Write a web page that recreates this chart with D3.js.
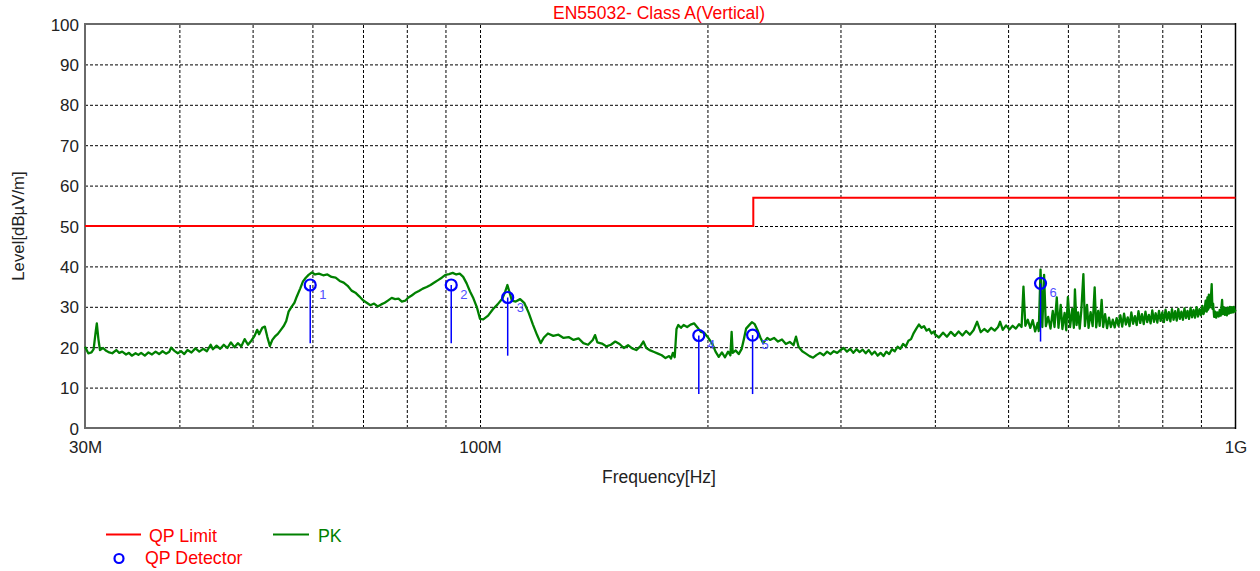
<!DOCTYPE html>
<html><head><meta charset="utf-8">
<script src="https://cdn.jsdelivr.net/npm/d3@7"></script>
<style>
html,body{margin:0;padding:0;background:#fff;}
svg{display:block;font-family:"Liberation Sans",Arial,sans-serif;}
</style></head>
<body><svg id="c" width="1260" height="571"></svg>
<script>
// ---------- data ----------
const yTicks = [0,10,20,30,40,50,60,70,80,90,100];
const xTickValues = [30,100,1000];
const xTickLabels = ["30M","100M","1G"];
const xGridValues = [40,50,60,70,80,90,100,200,300,400,500,600,700,800,900];

const limitFreq  = [30,230,230,1000];
const limitLevel = [50,50,57,57];

const qpFreq  = [59.6,91.6,108.8,194.8,229.5,552];
const qpLevel = [35.4,35.4,32.3,22.9,23.0,35.8];
const qpLow   = [21.0,21.0,17.9,8.4,8.4,21.4];
const qpLabel = ["1","2","3","4","5","6"];

const pkFreq = [
30,30.3,30.6,30.8,31.0,31.1,31.25,31.4,31.7,32.0,32.3,32.6,33.0,33.3,33.6,34.0,34.3,34.6,35.0,35.3,35.6,36.0,36.4,36.8,37.2,37.6,38.0,38.4,38.8,39.0,39.4,39.8,40.2,40.6,41.0,41.5,42.0,42.5,43.0,43.5,44.0,44.3,44.8,45.3,45.8,46.3,46.8,47.3,47.8,48.3,48.8,49.3,49.8,
50.3,50.7,51.0,51.5,51.9,52.3,52.7,53.1,53.5,54.0,54.5,55.0,55.4,55.8,56.3,56.8,57.2,57.8,58.3,58.8,59.3,59.9,60.5,61.2,62.0,62.8,63.6,64.4,65.2,66.0,66.8,67.6,68.4,69.2,70.0,70.8,71.6,72.4,73.2,74.0,74.8,75.6,76.4,77.2,78.0,78.8,79.6,80.4,81.2,82.0,83,84,85,86,87,88,89,90,91,92,93,94,95,96,97,98,99,100,
101,102.5,104,105.5,107,108,108.7,109.4,110.2,111.5,113,114.5,116,117.5,119,120.3,121.5,123,125,127,129,131,133,135,137,139,141,142,143,145,147,149,151,153,155,157,159,161,163,164.5,166,168,170,172,174,176,178,179,180,181,182,183,184.5,186,188,190,192,194,196,198,200,
203,205,207,209,211,213,214.5,215.3,216,218,220,222,223.5,225,227,229,231,233,235,237,240,242,245,248,251,254,257,260,262,264,267,270,273,276,279,282,285,288,291,294,297,300,
303,306,309,312,315,318,321,324,327,330,333,336,339,342,345,348,351,354,357,360,363,366,369,372,375,378,381,384,387,390,393,396,399,
400,405,410,415,420,425,430,435,440,445,450,455,460,465,470,475,480,485,488,492,497,502,507,512,517,521,524,527,531,535,539,543,547,549,552,555,558,561,565,569,573,576,580,583,587,590,594,597,600,
604,608,611,613,616,619,622,625,629,632,636,639,643,647,651,654,658,661,665,668,672,676,680,684,688,692,696,
700,704,708,712,716,720,724,728,732,736,740,744,748,752,756,760,764,768,772,776,780,784,788,792,796,800,
804,808,812,816,820,824,828,832,836,840,844,848,852,856,860,864,868,872,876,880,884,888,892,896,900,
904,907,910,913,916,918,920,922,924,927,930,932,934,937,940,943,946,950,953,956,960,962,965,968,971,974,977,980,983,986,989,992,995,998,1000
];
const pkLevel = [
20.1,18.5,18.7,19.5,24.0,25.9,22.0,19.3,19.8,19.1,18.7,18.5,19.3,18.6,18.9,18.2,18.6,17.9,18.5,18.1,18.6,17.9,18.7,18.2,18.9,18.3,19.0,18.4,18.9,19.9,19.1,18.5,19.0,18.3,19.3,18.7,19.7,18.9,19.6,19.0,20.6,19.5,20.4,19.6,20.6,19.8,21.2,20.0,21.0,20.2,22.0,20.6,21.6,
22.8,24.3,23.2,24.8,25.1,22.5,20.3,21.8,22.6,23.3,24.3,25.3,26.5,28.8,30.0,31.0,32.5,34.5,36.3,37.2,37.9,38.5,38.0,38.2,37.8,38.0,37.4,37.2,36.4,36.0,35.2,34.0,33.5,32.6,31.6,31.0,30.4,30.8,30.1,30.6,31.0,31.6,32.2,31.9,32.0,31.3,31.5,32.3,32.8,33.4,33.9,34.5,34.9,35.4,36.0,36.6,37.2,37.9,38.1,38.4,38.0,38.2,37.4,35.8,33.8,32.1,30.0,27.0,
26.9,27.8,29.4,30.6,32.0,33.8,35.4,33.6,31.5,31.3,31.9,30.9,28.5,25.6,23.0,21.0,22.4,23.4,22.8,23.1,22.3,22.5,21.8,22.2,21.0,20.6,21.8,23.0,21.2,20.9,20.2,20.6,21.4,20.8,19.8,20.5,19.7,19.3,20.2,21.4,19.8,19.2,18.8,18.4,18.0,17.3,17.8,17.2,18.6,17.5,24.5,25.5,24.8,25.5,25.0,25.6,25.9,24.9,23.8,23.6,22.6,
20.8,18.9,17.6,18.7,17.5,18.9,18.0,23.8,18.6,19.2,18.3,19.6,22.0,24.6,25.4,26.2,25.7,24.2,22.4,21.0,22.3,21.8,22.3,21.4,21.9,20.8,21.3,20.5,22.6,20.1,19.0,18.4,17.8,17.4,18.1,18.6,18.0,18.9,18.3,19.0,18.6,19.3,
19.8,18.9,19.6,18.6,19.5,18.8,19.4,18.5,19.3,18.2,18.9,17.9,18.6,17.8,18.9,18.3,19.5,19.0,20.1,19.6,20.8,20.2,21.6,22.0,23.5,24.6,25.6,24.8,25.2,24.1,24.5,23.4,23.9,
23.2,22.4,23.6,22.6,23.8,22.8,23.9,22.9,24.0,23.1,24.2,26.3,23.7,24.5,23.8,24.8,24.1,25.0,26.3,24.3,25.4,24.4,25.3,24.6,25.7,25.0,35.0,25.3,26.8,24.8,26.7,23.9,26.0,24.0,39.2,25.0,37.9,25.2,27.5,24.6,29.0,25.0,32.3,24.8,30.5,24.5,28.5,24.2,32.4,
25.0,29.5,24.8,34.3,25.5,28.6,24.6,29.0,38.1,25.2,30.5,24.8,28.7,25.2,34.8,24.9,29.0,25.3,31.7,25.0,28.2,24.7,27.3,25.0,26.8,24.9,27.2,
25.3,27.9,25.1,28.3,25.6,27.4,25.2,28.6,25.8,27.7,25.5,28.9,26.0,28.2,25.7,28.8,26.2,28.0,25.9,29.1,26.3,28.4,26.1,29.0,26.5,28.6,
26.2,29.3,26.7,28.7,26.4,29.4,26.8,28.9,26.6,29.5,27.0,28.8,26.8,29.6,27.2,29.0,27.0,29.7,27.4,29.2,27.3,29.9,27.6,29.4,27.9,
30.2,28.2,29.0,31.5,28.8,32.3,29.3,33.0,29.8,31.0,35.6,29.5,30.8,27.5,28.8,27.3,28.6,27.6,29.2,27.8,31.7,28.2,29.9,28.0,29.6,27.9,29.8,28.3,30.0,28.5,29.9,28.6,30.0,28.8,29.3
];

// ---------- layout ----------
const svg = d3.select("#c");
const L = 85, R = 1235.5, T = 24, B = 428;
const x = d3.scaleLog().domain([30,1000]).range([L,R]);
const y = d3.scaleLinear().domain([0,100]).range([B,T]);

// grid
const gx = svg.append("g").attr("transform",`translate(0,${B})`)
  .call(d3.axisBottom(x).tickValues(xGridValues).tickSize(-(B-T)).tickFormat(""));
gx.select(".domain").remove();
gx.selectAll("line").attr("stroke","#000").attr("stroke-width",1).attr("stroke-dasharray","3,2");

const gy = svg.append("g").attr("transform",`translate(${L},0)`)
  .call(d3.axisLeft(y).tickValues(yTicks.filter(d=>d>0&&d<100)).tickSize(-(R-L)).tickFormat(""));
gy.select(".domain").remove();
gy.selectAll("line").attr("stroke","#000").attr("stroke-width",1).attr("stroke-dasharray","3,2");

// frame
svg.append("line").attr("x1",L).attr("x2",R).attr("y1",T).attr("y2",T).attr("stroke","#6a6a6a").attr("stroke-width",2);
svg.append("line").attr("x1",L).attr("x2",R).attr("y1",B).attr("y2",B).attr("stroke","#6a6a6a").attr("stroke-width",2);
svg.append("line").attr("x1",L).attr("x2",L).attr("y1",T-1).attr("y2",B+1).attr("stroke","#6a6a6a").attr("stroke-width",2);
svg.append("line").attr("x1",R).attr("x2",R).attr("y1",T-1).attr("y2",B+1).attr("stroke","#000").attr("stroke-width",1.5);

// y axis labels
const ay = svg.append("g").attr("transform",`translate(${L},0)`)
  .call(d3.axisLeft(y).tickValues(yTicks).tickSize(0).tickPadding(6));
ay.select(".domain").remove();
ay.selectAll("text").attr("font-size",17).attr("fill","#222").attr("font-family","Liberation Sans, Arial, sans-serif").attr("dy","0.36em");

// x axis labels
const ax = svg.append("g").attr("transform",`translate(0,${B})`)
  .call(d3.axisBottom(x).tickValues(xTickValues).tickFormat((d,i)=>xTickLabels[i]).tickSize(0).tickPadding(13));
ax.select(".domain").remove();
ax.selectAll("text").attr("font-size",17).attr("fill","#222").attr("font-family","Liberation Sans, Arial, sans-serif");

// limit
svg.append("path").datum(limitFreq.map((f,i)=>[f,limitLevel[i]]))
  .attr("d",d3.line().x(d=>x(d[0])).y(d=>y(d[1])))
  .attr("fill","none").attr("stroke","#ff0000").attr("stroke-width",2);

// PK trace
svg.append("path").datum(pkFreq.map((f,i)=>[f,pkLevel[i]]))
  .attr("d",d3.line().x(d=>x(d[0])).y(d=>y(d[1])))
  .attr("fill","none").attr("stroke","#008000").attr("stroke-width",2.3).attr("stroke-linejoin","round");

// QP detector
const qp = qpFreq.map((f,i)=>({f,v:qpLevel[i],lo:qpLow[i],lab:qpLabel[i]}));
svg.selectAll(".stick").data(qp).enter().append("line")
  .attr("x1",d=>x(d.f)).attr("x2",d=>x(d.f)).attr("y1",d=>y(d.v)).attr("y2",d=>y(d.lo))
  .attr("stroke","#0000ff").attr("stroke-width",1.5);
svg.selectAll(".qpc").data(qp).enter().append("circle")
  .attr("cx",d=>x(d.f)).attr("cy",d=>y(d.v)).attr("r",5.5)
  .attr("fill","none").attr("stroke","#0000ff").attr("stroke-width",2.2);
svg.selectAll(".qpl").data(qp).enter().append("text")
  .attr("x",d=>x(d.f)+9).attr("y",d=>y(d.v)+14)
  .attr("font-size",13).attr("fill","#5050ff").text(d=>d.lab);

// titles
svg.append("text").attr("x",659).attr("y",19).attr("text-anchor","middle")
  .attr("font-size",17.5).attr("fill","#ff0000").text("EN55032- Class A(Vertical)");
svg.append("text").attr("x",659).attr("y",483).attr("text-anchor","middle")
  .attr("font-size",17.5).attr("fill","#222").text("Frequency[Hz]");
svg.append("text").attr("transform","translate(24,226) rotate(-90)").attr("text-anchor","middle")
  .attr("font-size",16.8).attr("fill","#222").text("Level[dBµV/m]");

// legend
svg.append("line").attr("x1",106).attr("x2",141).attr("y1",534.5).attr("y2",534.5).attr("stroke","#ff0000").attr("stroke-width",2);
svg.append("text").attr("x",149).attr("y",542).attr("font-size",17.8).attr("fill","#ff0000").text("QP Limit");
svg.append("line").attr("x1",273).attr("x2",309).attr("y1",534.5).attr("y2",534.5).attr("stroke","#008000").attr("stroke-width",2);
svg.append("text").attr("x",318).attr("y",542).attr("font-size",17.8).attr("fill","#008000").text("PK");
svg.append("circle").attr("cx",119).attr("cy",558.5).attr("r",4.5).attr("fill","none").attr("stroke","#0000ff").attr("stroke-width",2.2);
svg.append("text").attr("x",145).attr("y",564).attr("font-size",17.8).attr("fill","#ff0000").text("QP Detector");
</script></body></html>
